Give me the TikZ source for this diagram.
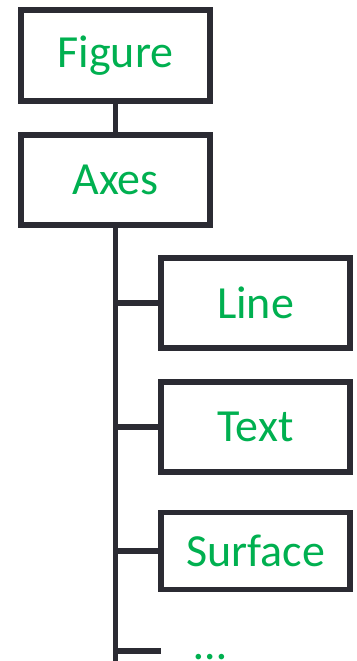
\documentclass[tikz,border=0pt]{standalone}
\usepackage{fontspec}
\setmainfont{Carlito}
\definecolor{objgreen}{RGB}{0, 176, 80}
\definecolor{framedark}{RGB}{43, 43, 51}
\usetikzlibrary{positioning, calc}

\begin{document}
\begin{tikzpicture}[x=1pt, y=-1pt,
  objbox/.style={draw=framedark, line width=5.5pt, fill=white, text=objgreen,
    font=\fontsize{46}{50}\selectfont, minimum width=189pt, minimum height=90pt, inner sep=0pt},
  tree/.style={draw=framedark, line width=5.5pt}]
  \useasboundingbox (0,0) rectangle (356,661);

  % top of the hierarchy
  \node[objbox, minimum height=91pt] (fig) at (115.5, 55.5) {Figure};
  \node[objbox] (axes) at (115.5, 180) {Axes};
  \draw[tree] (fig.south) -- (axes.north);

  % children of the axes
  \node[objbox] (line) at (255.5, 303) {Line};
  \node[objbox] (text) at (255.5, 427) {Text};
  \node[objbox, minimum height=77pt] (surf) at (255.5, 551) {Surface};
  \coordinate (trunkend) at (115.5, 661);
  \coordinate (more) at (161, 651);
  \node[text=objgreen, font=\fontsize{46}{50}\selectfont, inner sep=0pt, anchor=base] (dots) at (210, 659) {…};

  \draw[tree] (axes.south) -- (trunkend);
  \draw[tree] (axes.south |- line.west) -- (line.west);
  \draw[tree] (axes.south |- text.west) -- (text.west);
  \draw[tree] (axes.south |- surf.west) -- (surf.west);
  \draw[tree] (axes.south |- more) -- (more);
\end{tikzpicture}
\end{document}
